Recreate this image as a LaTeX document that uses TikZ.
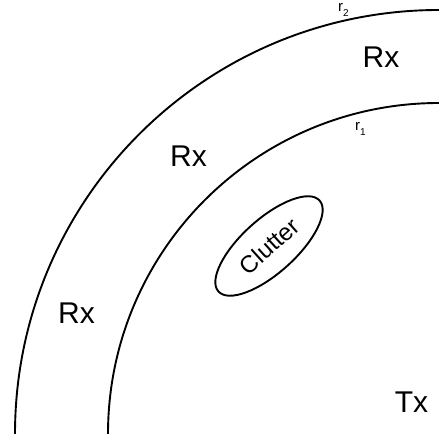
\documentclass[tikz,border=0pt]{standalone}
\usepackage{fontspec}
\setmainfont{Liberation Sans}
\usetikzlibrary{shapes.geometric}

\newcommand{\radlabel}[1]{r\raisebox{-5bp}{\fontsize{10bp}{12bp}\selectfont #1}}

\begin{document}
\begin{tikzpicture}[
    x=1bp, y=1bp,
    ring/.style={line width=1.9bp},
    zone/.style={inner sep=0pt, font=\fontsize{30bp}{36bp}\selectfont},
    radius label/.style={inner sep=0pt, anchor=base west, font=\fontsize{15bp}{18bp}\selectfont}
]
  \useasboundingbox (0,0) rectangle (439,434);

  % --- TRANSMITTER CORNER ---
  \coordinate (o) at (439,0);

  % --- RANGE ARCS ---
  \draw[ring] (o) ++(180:424) arc[start angle=180, end angle=90, radius=424];
  \draw[ring] (o) ++(180:331) arc[start angle=180, end angle=90, radius=331];

  % --- RADIUS LABELS ---
  \node[radius label] (r2) at (338,422) {\radlabel{2}};
  \node[radius label] (r1) at (355,303) {\radlabel{1}};

  % --- ZONE LABELS ---
  \node[zone] (rx far) at (381,376.5) {Rx};
  \node[zone] (rx mid) at (188.5,277.5) {Rx};
  \node[zone] (rx left) at (76.5,121) {Rx};
  \node[zone] (tx) at (411.5,31.5) {Tx};

  % --- CLUTTER ---
  \node[draw, ellipse, ring, rotate=42, minimum width=136bp, minimum height=54bp,
        inner sep=0pt, font=\fontsize{24bp}{28bp}\selectfont] (clutter) at (269,188) {Clutter};

\end{tikzpicture}
\end{document}
